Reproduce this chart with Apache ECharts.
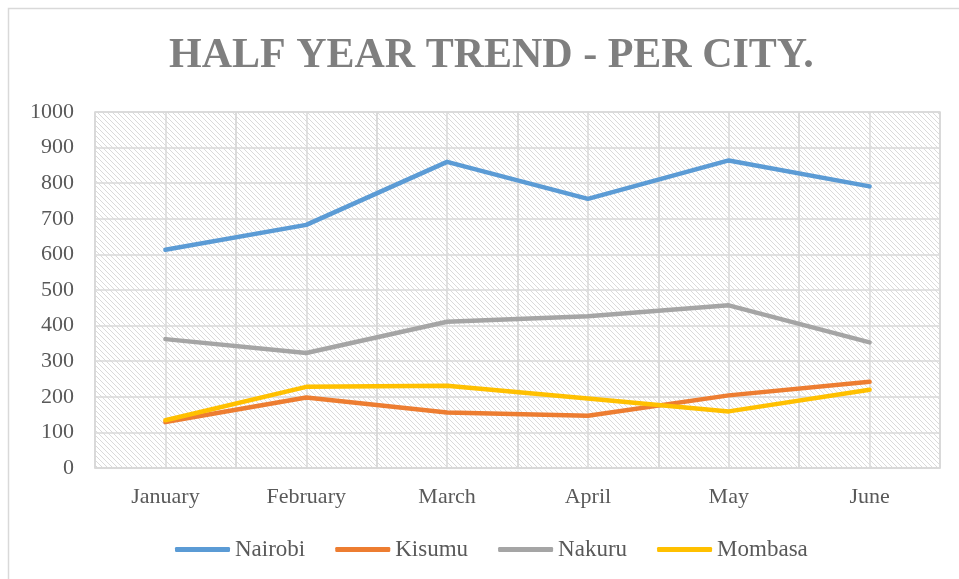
<!DOCTYPE html>
<html>
<head>
<meta charset="utf-8">
<script src="https://cdn.jsdelivr.net/npm/echarts@6/dist/echarts.min.js"></script>
<style>
  html, body { margin: 0; padding: 0; background: #fff; }
  #main { width: 959px; height: 579px; }
</style>
</head>
<body>
<div id="main"></div>
<script>
// data
var months = ["January", "February", "March", "April", "May", "June"];
var nairobi = [613, 683, 860, 756, 864, 791];
var kisumu = [129, 198, 156, 147, 204, 242];
var nakuru = [362, 323, 411, 426, 457, 353];
var mombasa = [134, 228, 231, 195, 159, 220];
var yTicks = { min: 0, max: 1000, step: 100 };

// diagonal hatch used as plot background
function makeHatch() {
    var n = 5;
    var c = document.createElement("canvas");
    c.width = n;
    c.height = n;
    var ctx = c.getContext("2d");
    ctx.fillStyle = "#fff";
    ctx.fillRect(0, 0, n, n);
    ctx.fillStyle = "#dadada";
    for (var i = 0; i < n; i++) {
        ctx.fillRect(i, i, 1, 1);
    }
    return c;
}

var serif = "'Liberation Serif', 'DejaVu Serif', serif";
var myChart = echarts.init(document.getElementById("main"));

function line(name, data, color) {
    return {
        name: name,
        type: "line",
        data: data,
        symbol: "none",
        lineStyle: { width: 4.5, color: color, cap: "round", join: "round" },
        itemStyle: { color: color },
    };
}

var gridLine = { color: "#d9d9d9", width: 1.5 };

var option = {
    backgroundColor: "#fff",
    animation: false,
    title: {
        text: "HALF YEAR TREND - PER CITY.",
        left: 164,
        top: 30,
        textStyle: { fontFamily: serif, fontWeight: "bold", fontSize: 42, color: "#7f7f7f" },
    },
    graphic: [
        {
            type: "rect",
            shape: { x: 8.5, y: 8.5, width: 1000, height: 700 },
            style: { fill: "none", stroke: "#d9d9d9", lineWidth: 1.5 },
            silent: true,
        },
    ],
    legend: {
        bottom: 13,
        left: 170,
        icon: "roundRect",
        itemWidth: 55,
        itemHeight: 5,
        itemGap: 30,
        textStyle: { fontFamily: serif, fontSize: 23, color: "#595959" },
        data: ["Nairobi", "Kisumu", "Nakuru", "Mombasa"],
    },
    grid: {
        left: 95,
        right: 19,
        top: 112,
        bottom: 111,
        show: true,
        backgroundColor: { image: makeHatch(), repeat: "repeat" },
        borderColor: "#d9d9d9",
        borderWidth: 1.5,
    },
    xAxis: [
        {
            type: "category",
            data: months,
            boundaryGap: true,
            axisLine: { lineStyle: gridLine },
            axisTick: { show: false },
            splitLine: { show: true, lineStyle: gridLine },
            axisLabel: { fontFamily: serif, fontSize: 22, color: "#595959", margin: 18 },
        },
        {
            // extra vertical gridlines at each half category
            type: "value",
            min: 0,
            max: months.length * 2,
            interval: 1,
            position: "bottom",
            axisLine: { show: false },
            axisTick: { show: false },
            axisLabel: { show: false },
            splitLine: { show: true, lineStyle: gridLine },
        },
    ],
    yAxis: {
        type: "value",
        min: yTicks.min,
        max: yTicks.max,
        interval: yTicks.step,
        axisLine: { show: false },
        axisTick: { show: false },
        splitLine: { lineStyle: gridLine },
        axisLabel: {
            fontFamily: serif,
            fontSize: 22,
            color: "#595959",
            margin: 21,
            formatter: function (v) { return String(v); },
        },
    },
    series: [
        line("Nairobi", nairobi, "#5b9bd5"),
        line("Kisumu", kisumu, "#ed7d31"),
        line("Nakuru", nakuru, "#a5a5a5"),
        line("Mombasa", mombasa, "#ffc000"),
    ],
};

myChart.setOption(option);
</script>
</body>
</html>
